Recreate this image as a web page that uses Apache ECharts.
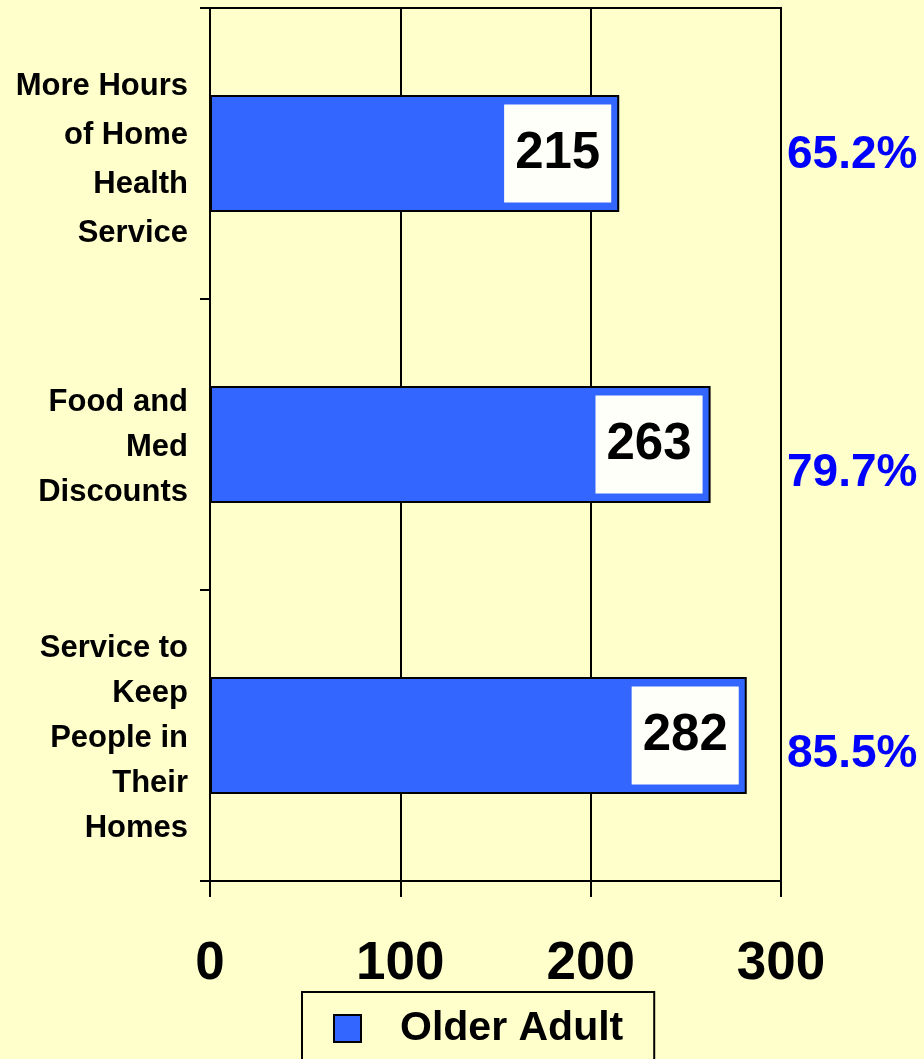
<!DOCTYPE html>
<html>
<head>
<meta charset="utf-8" />
<title>Older Adult</title>
<script src="https://cdn.jsdelivr.net/npm/echarts@6/dist/echarts.min.js"></script>
<style>
  html, body { margin: 0; padding: 0; background: #ffffcc; }
  #main { width: 924px; height: 1059px; }
</style>
</head>
<body>
<div id="main"></div>
<script type="text/javascript">
// data
var categories = ['More Hours\nof Home\nHealth\nService', 'Food and\nMed\nDiscounts', 'Service to\nKeep\nPeople in\nTheir\nHomes'];
var olderAdult = [215, 263, 282];
var percents = ['65.2%', '79.7%', '85.5%'];
var xTicks = [0, 100, 200, 300];

var xMax = xTicks[xTicks.length - 1];
var pctShift = [2, 29, 19]; // vertical nudge of the percent labels, in px
var font = '"Liberation Sans", Arial, sans-serif';

var chart = echarts.init(document.getElementById('main'));

var option = {
  backgroundColor: '#ffffcc',
  animation: false,
  grid: {
    left: 210, right: 143, top: 8, bottom: 178,
    show: true, borderColor: '#000', borderWidth: 2, backgroundColor: 'transparent'
  },
  legend: {
    data: ['Older Adult'],
    left: 302, top: 992,
    orient: 'horizontal',
    padding: [16, 31, 16, 31],
    borderColor: '#000', borderWidth: 2,
    itemWidth: 27, itemHeight: 27, itemGap: 10,
    icon: 'rect',
    itemStyle: { color: '#3366ff', borderColor: '#000', borderWidth: 2 },
    textStyle: { fontFamily: font, fontWeight: 'bold', fontSize: 41, color: '#000', padding: [0, 0, 0, 34] }
  },
  xAxis: {
    type: 'value', min: 0, max: xMax, interval: 100,
    axisLine: { show: true, lineStyle: { color: '#000', width: 2 } },
    axisTick: { show: true, length: 16, lineStyle: { color: '#000', width: 2 } },
    splitLine: { show: true, lineStyle: { color: '#000', width: 2 } },
    axisLabel: { margin: 57, fontFamily: font, fontWeight: 'bold', fontSize: 53, color: '#000' }
  },
  yAxis: {
    type: 'category', inverse: true, data: categories,
    axisLine: { show: true, lineStyle: { color: '#000', width: 2 } },
    axisTick: { show: true, length: 10, lineStyle: { color: '#000', width: 2 } },
    axisLabel: {
      margin: 22, fontFamily: font, fontWeight: 'bold', fontSize: 31, lineHeight: 45,
      color: '#000', align: 'right',
      formatter: function (v, i) {
        // a thin blank first line pushes the block down a little, as in the original
        var tag = i === 0 ? 'wide' : 'std';
        var sp = i === 0 ? 'spWide' : 'spStd';
        return '{' + sp + '| }\n' + v.split('\n').map(function (l) {
          return '{' + tag + '|' + l + '}';
        }).join('\n');
      },
      rich: {
        spWide: { fontSize: 1, lineHeight: 12 },
        spStd: { fontSize: 1, lineHeight: 5 },
        wide: { fontFamily: font, fontWeight: 'bold', fontSize: 31, lineHeight: 49 },
        std: { fontFamily: font, fontWeight: 'bold', fontSize: 31, lineHeight: 45 }
      }
    }
  },
  series: [
    {
      name: 'Older Adult',
      type: 'bar',
      data: olderAdult,
      barWidth: 117,
      itemStyle: { color: '#3366ff', borderColor: '#000', borderWidth: 2 },
      label: {
        show: true, position: 'insideRight', distance: 8,
        fontFamily: font, fontWeight: 'bold', fontSize: 51, color: '#000',
        backgroundColor: '#fffffa', padding: [24, 11, 23, 11]
      }
    },
    {
      name: 'pct',
      type: 'scatter',
      symbolSize: 0,
      silent: true,
      itemStyle: { opacity: 1 },
      data: percents.map(function (p, i) {
        return { value: [xMax, i], label: { formatter: p, offset: [0, pctShift[i]] } };
      }),
      label: {
        show: true, position: 'right', distance: 6, opacity: 1,
        fontFamily: font, fontWeight: 'bold', fontSize: 46, color: '#0000ff'
      }
    }
  ]
};

chart.setOption(option);
</script>
</body>
</html>
